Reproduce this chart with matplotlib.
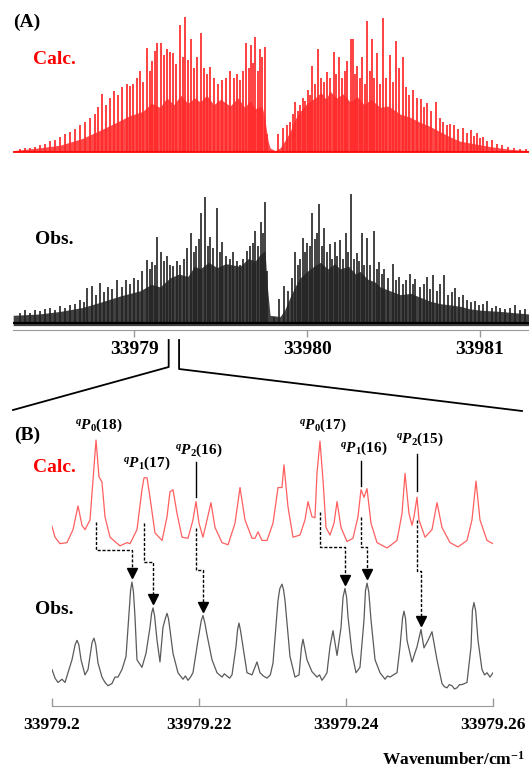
import numpy as np
import matplotlib.pyplot as plt
from matplotlib.lines import Line2D

plt.rcParams['font.family'] = ['Liberation Serif', 'DejaVu Serif']
plt.rcParams['font.weight'] = 'bold'
plt.rcParams['mathtext.fontset'] = 'custom'
plt.rcParams['mathtext.rm'] = 'Liberation Serif:bold'
plt.rcParams['mathtext.it'] = 'Liberation Serif:italic:bold'
plt.rcParams['mathtext.bf'] = 'Liberation Serif:bold'

# ---- panel (A): strong lines, offsets from 33979 cm-1, heights in % of strongest
calc_a_pos = [-0.659, -0.630, -0.601, -0.572, -0.543, -0.514, -0.486, -0.457, -0.428, -0.399,
              -0.370, -0.341, -0.312, -0.283, -0.254, -0.225, -0.208, -0.185, -0.162, -0.139,
              -0.116, -0.092, -0.069, -0.040, -0.023, -0.006, 0.017, 0.035, 0.052, 0.075,
              0.092, 0.104, 0.121, 0.133, 0.156, 0.173, 0.191, 0.208, 0.225, 0.243,
              0.266, 0.283, 0.295, 0.312, 0.329, 0.347, 0.364, 0.387, 0.405, 0.422,
              0.439, 0.462, 0.486, 0.509, 0.532, 0.555, 0.578, 0.595, 0.613, 0.630,
              0.647, 0.665, 0.676, 0.688, 0.699, 0.717, 0.728, 0.740, 0.757, 0.769,
              0.832, 0.861, 0.884, 0.902, 0.919, 0.931, 0.948, 0.960, 0.977, 0.988,
              1.006, 1.017, 1.029, 1.046, 1.064, 1.081, 1.098, 1.116, 1.133, 1.156,
              1.168, 1.185, 1.202, 1.220, 1.231, 1.254, 1.266, 1.277, 1.289, 1.306,
              1.318, 1.335, 1.347, 1.364, 1.376, 1.387, 1.405, 1.422, 1.439, 1.457,
              1.480, 1.497, 1.514, 1.532, 1.555, 1.572, 1.590, 1.613, 1.636, 1.659,
              1.676, 1.694, 1.717, 1.746, 1.769, 1.786, 1.809, 1.827, 1.850, 1.873,
              1.902, 1.925, 1.948, 1.965, 1.983, 2.000, 2.017, 2.040, 2.069, 2.098,
              2.127, 2.162, 2.196, 2.231, 2.266]
calc_a_h = [2, 3, 3, 4, 5, 6, 8, 9, 11, 13,
            15, 17, 20, 22, 25, 28, 33, 43, 35, 40,
            45, 42, 48, 50, 49, 50, 55, 60, 52, 77,
            60, 67, 75, 81, 81, 72, 76, 74, 73, 65,
            94, 70, 100, 68, 84, 62, 70, 88, 62, 58,
            63, 55, 50, 53, 55, 60, 55, 58, 53, 60,
            81, 62, 79, 66, 85, 60, 76, 70, 78, 13,
            13, 18, 20, 22, 28, 37, 30, 35, 40, 38,
            46, 42, 64, 50, 76, 55, 52, 59, 55, 74,
            58, 70, 55, 60, 67, 84, 84, 58, 64, 55,
            70, 50, 97, 60, 84, 55, 73, 50, 99, 55,
            72, 52, 82, 62, 70, 48, 42, 46, 40, 39,
            33, 36, 30, 37, 25, 22, 20, 21, 20, 17,
            18, 14, 16, 12, 14, 10, 11, 8, 9, 6,
            5, 4, 3, 2, 2]
# dense body of weak lines (upper edge)
calc_a_env_pos = [-0.699, -0.55, -0.428, -0.30, -0.197, -0.10, -0.023, 0.05, 0.10, 0.15,
                  0.19, 0.23, 0.27, 0.31, 0.35, 0.382, 0.42, 0.46, 0.50, 0.555,
                  0.60, 0.64, 0.671, 0.70, 0.740, 0.755, 0.763, 0.775, 0.786, 0.815,
                  0.844, 0.87, 0.902, 0.93, 0.960, 1.00, 1.046, 1.08, 1.11, 1.133,
                  1.17, 1.21, 1.249, 1.29, 1.33, 1.37, 1.422, 1.47, 1.538, 1.59,
                  1.653, 1.71, 1.769, 1.83, 1.884, 1.97, 2.058, 2.17, 2.283]
calc_a_env_h = [1, 3, 5, 10, 16, 22, 27, 30, 36, 33,
                40, 35, 42, 36, 40, 37, 42, 35, 39, 34,
                40, 33, 38, 32, 34, 25, 18, 8, 3, 1,
                3, 8, 15, 24, 30, 36, 40, 44, 39, 45,
                40, 43, 37, 41, 35, 39, 33, 34, 28, 26,
                22, 19, 15, 11, 8, 6, 4, 2, 1]

obs_a_pos = [-0.659, -0.630, -0.601, -0.572, -0.543, -0.514, -0.486, -0.457, -0.428, -0.399,
             -0.370, -0.341, -0.312, -0.289, -0.272, -0.243, -0.220, -0.197, -0.173, -0.150,
             -0.127, -0.098, -0.069, -0.046, -0.023, 0.000, 0.023, 0.046, 0.075, 0.092,
             0.104, 0.121, 0.133, 0.156, 0.173, 0.191, 0.208, 0.225, 0.249, 0.266,
             0.289, 0.306, 0.329, 0.347, 0.358, 0.376, 0.387, 0.410, 0.428, 0.439,
             0.457, 0.480, 0.497, 0.509, 0.532, 0.555, 0.572, 0.595, 0.613, 0.630,
             0.653, 0.671, 0.688, 0.699, 0.717, 0.734, 0.746, 0.757, 0.769,
             0.809, 0.838, 0.867, 0.890, 0.913, 0.931, 0.948, 0.960, 0.977, 0.988,
             1.000, 1.017, 1.029, 1.046, 1.058, 1.069, 1.087, 1.098, 1.116, 1.133,
             1.144, 1.162, 1.173, 1.191, 1.208, 1.225, 1.237, 1.254, 1.272, 1.289,
             1.301, 1.318, 1.329, 1.347, 1.364, 1.387, 1.405, 1.416, 1.433, 1.445,
             1.468, 1.497, 1.514, 1.532, 1.555, 1.572, 1.595, 1.613, 1.624, 1.653,
             1.676, 1.694, 1.711, 1.728, 1.751, 1.769, 1.792, 1.815, 1.838, 1.855,
             1.879, 1.902, 1.925, 1.948, 1.971, 1.994, 2.017, 2.040, 2.069, 2.092,
             2.116, 2.144, 2.173, 2.202, 2.231, 2.260]
obs_a_h = [8, 10, 8, 10, 9, 11, 12, 10, 13, 12,
           14, 15, 18, 16, 27, 29, 22, 31, 24, 28,
           26, 33, 28, 33, 30, 35, 33, 40, 49, 42,
           47, 45, 67, 55, 48, 52, 45, 44, 48, 45,
           50, 58, 70, 55, 60, 65, 85, 98, 60, 67,
           58, 89, 55, 63, 52, 50, 55, 48, 45, 50,
           56, 60, 62, 71, 60, 78, 70, 94, 40,
           5, 19, 29, 25, 35, 55, 45, 50, 66, 55,
           62, 60, 85, 65, 70, 92, 60, 74, 55, 61,
           50, 63, 52, 64, 50, 70, 55, 100, 50, 54,
           48, 70, 45, 66, 45, 71, 42, 47, 38, 42,
           35, 46, 33, 36, 30, 33, 38, 30, 34, 28,
           30, 36, 26, 37, 25, 30, 37, 22, 24, 27,
           20, 22, 18, 16, 17, 14, 15, 17, 12, 13,
           12, 11, 12, 14, 10, 11]
obs_a_env_pos = [-0.699, -0.55, -0.428, -0.30, -0.197, -0.08, 0.035, 0.10, 0.15, 0.208,
                 0.26, 0.31, 0.35, 0.382, 0.43, 0.48, 0.53, 0.613, 0.66, 0.70,
                 0.728, 0.757, 0.769, 0.786, 0.844, 0.87, 0.902, 0.93, 0.960, 1.00,
                 1.04, 1.075, 1.12, 1.16, 1.191, 1.24, 1.28, 1.306, 1.35, 1.39,
                 1.422, 1.48, 1.538, 1.60, 1.653, 1.71, 1.769, 1.83, 1.884, 1.94,
                 2.000, 2.116, 2.283]
obs_a_env_h = [6, 7, 9, 12, 16, 21, 25, 30, 28, 35,
               38, 36, 44, 42, 47, 43, 46, 44, 50, 48,
               53, 56, 30, 6, 5, 10, 20, 28, 35, 40,
               44, 47, 42, 46, 42, 44, 38, 40, 34, 32,
               28, 25, 22, 23, 20, 17, 15, 14, 13, 11,
               10, 9, 7]

# ---- panel (B): traces, x in 1e-3 cm-1 above 33979.2
calc_b_x = [0.00, 0.41, 1.09, 2.04, 2.86, 3.54, 4.08, 4.49, 5.17, 5.58,
            5.99, 6.39, 6.80, 7.21, 7.89, 9.25, 10.20, 10.61, 11.56, 12.24,
            12.52, 12.93, 13.33, 14.01, 14.97, 15.65, 16.05, 16.46, 17.01, 17.69,
            18.50, 19.18, 19.59, 20.00, 20.54, 21.09, 21.63, 22.18, 23.13, 23.95,
            24.90, 25.58, 26.26, 27.21, 27.62, 28.03, 28.57, 29.25, 30.07, 30.75,
            31.29, 31.56, 32.11, 32.79, 33.74, 34.42, 34.83, 35.37, 35.78, 36.05,
            36.46, 36.87, 37.28, 37.82, 38.37, 38.78, 39.32, 40.14, 40.95, 41.63,
            42.04, 42.45, 42.86, 43.40, 44.22, 45.58, 46.94, 47.62, 48.03, 48.57,
            48.98, 49.25, 49.66, 49.93, 50.75, 51.70, 52.38, 53.06, 54.15, 55.24,
            56.46, 57.14, 57.69, 58.23, 59.18, 60.00]
calc_b_y = [0.20, 0.10, 0.04, 0.05, 0.17, 0.39, 0.21, 0.17, 0.26, 0.63,
            1.00, 0.66, 0.61, 0.29, 0.10, 0.02, 0.05, 0.04, 0.17, 0.54,
            0.65, 0.65, 0.47, 0.14, 0.07, 0.29, 0.52, 0.54, 0.32, 0.10,
            0.09, 0.26, 0.43, 0.23, 0.10, 0.26, 0.42, 0.19, 0.05, 0.03,
            0.23, 0.56, 0.26, 0.09, 0.09, 0.15, 0.07, 0.07, 0.23, 0.56,
            0.56, 0.77, 0.38, 0.10, 0.12, 0.26, 0.43, 0.29, 0.28, 0.69,
            0.99, 0.63, 0.19, 0.12, 0.23, 0.43, 0.19, 0.06, 0.09, 0.29,
            0.54, 0.47, 0.55, 0.23, 0.05, 0.00, 0.07, 0.32, 0.69, 0.32,
            0.21, 0.29, 0.47, 0.26, 0.10, 0.17, 0.42, 0.19, 0.05, 0.01,
            0.07, 0.26, 0.62, 0.26, 0.07, 0.04]
obs_b_x = [0.00, 0.41, 0.82, 1.36, 1.77, 2.18, 2.72, 3.15, 3.40, 3.65, 3.95, 4.49,
           4.90, 5.45, 5.71, 5.95, 6.26, 6.80, 7.21, 7.62, 8.16, 8.57, 8.98, 9.52,
           10.07, 10.48, 10.70, 10.88, 11.08, 11.29, 11.56, 12.24, 12.79, 13.33, 13.55, 13.74,
           13.95, 14.29, 14.69, 15.10, 15.45, 15.65, 15.85, 16.05, 16.46, 17.14, 17.82, 18.15,
           18.50, 18.85, 19.18, 19.86, 20.30, 20.54, 20.80, 21.09, 21.77, 22.45, 23.13, 23.45,
           23.81, 24.15, 24.49, 25.03, 25.25, 25.44, 25.65, 25.99, 26.53, 27.21, 27.89, 28.30,
           28.75, 29.25, 29.70, 30.07, 30.75, 31.00, 31.29, 31.50, 31.70, 32.38, 33.06, 33.61,
           33.95, 34.15, 34.35, 34.69, 35.37, 36.05, 36.40, 36.73, 37.05, 37.41, 37.82, 38.23,
           38.78, 39.32, 39.60, 39.86, 40.08, 40.27, 40.82, 41.36, 41.90, 42.45, 42.65, 42.86,
           43.10, 43.40, 43.95, 44.63, 45.31, 45.65, 45.99, 46.45, 46.94, 47.35, 47.70, 47.89,
           48.10, 48.30, 48.98, 49.66, 50.20, 50.61, 51.16, 51.70, 52.38, 53.06, 53.40, 53.74,
           54.05, 54.42, 54.75, 55.10, 55.45, 55.78, 56.46, 57.01, 57.20, 57.41, 57.65, 57.96,
           58.50, 58.85, 59.18, 59.60, 60.00]
obs_b_y = [0.19, 0.11, 0.07, 0.10, 0.07, 0.16, 0.28, 0.42, 0.46, 0.42, 0.28, 0.14,
           0.19, 0.44, 0.48, 0.42, 0.25, 0.12, 0.07, 0.04, 0.06, 0.12, 0.12, 0.19,
           0.31, 0.71, 0.93, 1.00, 0.91, 0.68, 0.28, 0.21, 0.34, 0.58, 0.71, 0.76,
           0.69, 0.46, 0.26, 0.58, 0.67, 0.71, 0.66, 0.56, 0.34, 0.16, 0.10, 0.13,
           0.09, 0.12, 0.16, 0.46, 0.64, 0.69, 0.62, 0.51, 0.28, 0.16, 0.12, 0.15,
           0.13, 0.11, 0.14, 0.40, 0.56, 0.62, 0.55, 0.40, 0.16, 0.14, 0.26, 0.16,
           0.13, 0.11, 0.14, 0.25, 0.83, 0.94, 0.98, 0.93, 0.83, 0.31, 0.12, 0.14,
           0.40, 0.47, 0.40, 0.28, 0.17, 0.12, 0.14, 0.09, 0.12, 0.16, 0.40, 0.55,
           0.32, 0.58, 0.86, 0.94, 0.86, 0.68, 0.34, 0.16, 0.21, 0.65, 0.92, 0.99,
           0.91, 0.65, 0.28, 0.16, 0.10, 0.13, 0.12, 0.14, 0.16, 0.40, 0.67, 0.73,
           0.66, 0.46, 0.26, 0.40, 0.56, 0.39, 0.46, 0.54, 0.28, 0.06, 0.03, 0.02,
           0.05, 0.04, 0.01, 0.02, 0.05, 0.05, 0.07, 0.40, 0.74, 0.81, 0.73, 0.46,
           0.19, 0.14, 0.16, 0.12, 0.16]

# assignments: calc peak -> obs peak (1e-3 cm-1 above 33979.2)
assign_labels = [r'$^{q}P_{0}$(18)', r'$^{q}P_{1}$(17)', r'$^{q}P_{2}$(16)',
                 r'$^{q}P_{0}$(17)', r'$^{q}P_{1}$(16)', r'$^{q}P_{2}$(15)']
assign_calc = [5.99, 12.52, 19.59, 36.46, 42.04, 49.66]
assign_obs = [10.88, 13.74, 20.54, 39.86, 42.86, 50.20]
assign_obs_h = [1.00, 0.76, 0.69, 0.94, 0.99, 0.56]

W, H = 529, 769
fig = plt.figure(figsize=(W / 100, H / 100), dpi=100)

def fx(px):
    return px / W

def fy(py):
    return 1 - py / H

# ---------------- panel A
axA = fig.add_axes([fx(13), fy(330), fx(529) - fx(13), fy(0) - fy(330)])
axA.set_xlim(33978.30, 33981.283)
axA.set_ylim(-0.054, 2.504)
calc_off, calc_scale = 1.326, 1.047

x = 33979 + np.array(calc_a_env_pos)
axA.fill_between(x, calc_off, calc_off + np.array(calc_a_env_h) / 100 * calc_scale,
                 color='#ff1a1a', alpha=0.8, lw=0)
x = 33979 + np.array(calc_a_pos)
axA.vlines(x, calc_off, calc_off + np.array(calc_a_h) / 100 * calc_scale,
           color='#ff2a2a', lw=1.25)
axA.axhline(calc_off, color='red', lw=1.2)

x = 33979 + np.array(obs_a_env_pos)
axA.fill_between(x, -0.02, np.array(obs_a_env_h) / 100, color='#111111', alpha=0.8, lw=0)
x = 33979 + np.array(obs_a_pos)
axA.vlines(x, 0, np.array(obs_a_h) / 100, color='#222222', lw=1.2)
axA.axhline(0.0, color='black', lw=1.6)

for s in ['top', 'left', 'right']:
    axA.spines[s].set_visible(False)
axA.spines['bottom'].set_color('#999999')
axA.set_yticks([])
ticksA = [33979, 33980, 33981]
axA.set_xticks(ticksA)
axA.set_xticklabels([str(t) for t in ticksA])
axA.tick_params(axis='x', direction='out', length=5, width=1, color='#999999',
                labelsize=14, pad=3)
axA.patch.set_alpha(0)

# ---------------- panel B
axB = fig.add_axes([fx(52), fy(706), fx(493) - fx(52), fy(410) - fy(706)])
axB.set_xlim(33979.2, 33979.26)
axB.set_ylim(-0.148, 2.593)
calc_b_off = 1.315

axB.plot(33979.2 + np.array(calc_b_x) / 1000, np.array(calc_b_y) + calc_b_off,
         color='#ff5f5f', lw=0.9)
axB.plot(33979.2 + np.array(obs_b_x) / 1000, obs_b_y, color='#5a5a5a', lw=0.9)

start_y = [1.56, 1.55, 1.50, 1.65, 1.60, 1.57]
elbow_y = [1.30, 1.19, 1.11, 1.32, 1.32, 1.10]
label_y = [2.45, 2.10, 2.22, 2.45, 2.24, 2.32]
stick = [None, None, (2.11, 1.79), None, (2.12, 1.89), (2.19, 1.84)]
for i in range(len(assign_calc)):
    xc = 33979.2 + assign_calc[i] / 1000
    xo = 33979.2 + assign_obs[i] / 1000
    tip = assign_obs_h[i] + 0.08
    axB.plot([xc, xc, xo, xo], [start_y[i], elbow_y[i], elbow_y[i], tip + 0.04],
             color='black', lw=1.0, ls=(0, (2.2, 1.3)))
    axB.plot([xo], [tip], marker='v', ms=6.5, color='black', mec='black')
    axB.text(xc + 0.0004, label_y[i], assign_labels[i], ha='center', va='center',
             fontsize=11, clip_on=False)
    if stick[i] is not None:
        axB.plot([xc, xc], stick[i], color='black', lw=1.0)

for s in ['top', 'left', 'right']:
    axB.spines[s].set_visible(False)
axB.spines['bottom'].set_color('#999999')
axB.set_yticks([])
ticksB = [33979.2, 33979.22, 33979.24, 33979.26]
axB.set_xticks(ticksB)
axB.set_xticklabels([f'{t:.7g}' for t in ticksB])
axB.tick_params(axis='x', direction='in', length=6, width=1, color='#999999',
                labelsize=12.5, pad=8)
axB.patch.set_alpha(0)

# ---------------- zoom connector
posA = axA.get_position()
def ax_fx(v):
    x0, x1 = axA.get_xlim()
    return posA.x0 + (v - x0) / (x1 - x0) * posA.width

xl, xr = ax_fx(33979.2), ax_fx(33979.26)
fig.add_artist(Line2D([xl, xl, fx(13)], [fy(340), fy(367), fy(410)], color='black', lw=1.3))
fig.add_artist(Line2D([xr, xr, fx(522)], [fy(340), fy(369), fy(411)], color='black', lw=1.3))

# ---------------- texts
fig.text(fx(27), fy(22), '(A)', ha='center', va='center', fontsize=14)
fig.text(fx(54), fy(60), 'Calc.', ha='center', va='center', fontsize=14, color='red')
fig.text(fx(54), fy(240), 'Obs.', ha='center', va='center', fontsize=14)
fig.text(fx(27), fy(435), '(B)', ha='center', va='center', fontsize=14)
fig.text(fx(54), fy(467), 'Calc.', ha='center', va='center', fontsize=14, color='red')
fig.text(fx(54), fy(610), 'Obs.', ha='center', va='center', fontsize=14)
fig.text(fx(525), fy(760), r'Wavenumber/cm$^{-1}$', ha='right', va='center', fontsize=12.5)

fig.savefig('out.png', dpi=100)
